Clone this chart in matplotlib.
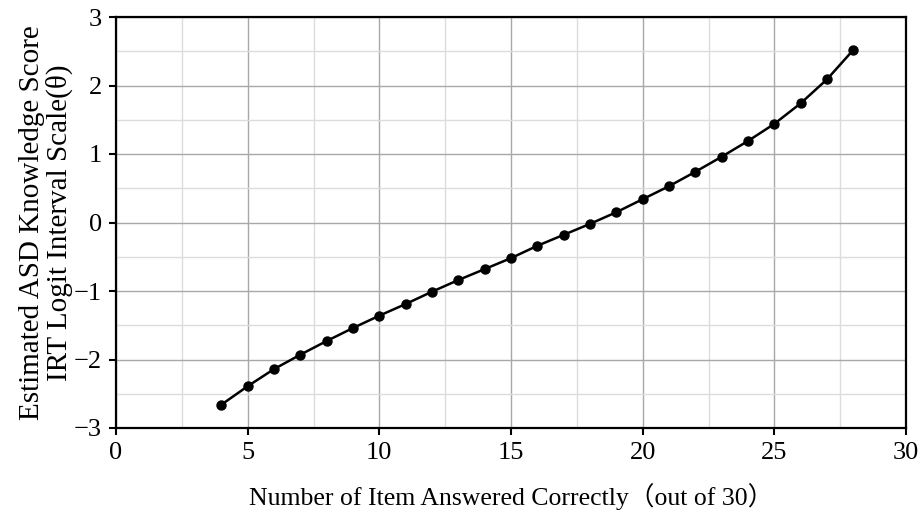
import numpy as np
import matplotlib.pyplot as plt
from matplotlib.ticker import MultipleLocator

plt.rcParams['font.family'] = ['Liberation Serif', 'Noto Sans CJK SC']

# items answered correctly and estimated theta
items = np.arange(4, 29)
theta = np.array([-2.66, -2.39, -2.14, -1.93, -1.73, -1.54, -1.36, -1.19, -1.01,
                  -0.84, -0.68, -0.52, -0.34, -0.18, -0.02, 0.15, 0.34, 0.53,
                  0.74, 0.96, 1.19, 1.44, 1.74, 2.09, 2.52])

fig = plt.figure(figsize=(9.21, 5.12), dpi=100)
ax = fig.add_axes([116 / 921, 1 - 428 / 512, 790 / 921, 411 / 512])

ax.plot(items, theta, color='black', lw=1.8, marker='o', ms=6.5, zorder=3)

ax.set_xlim(0, 30)
ax.set_ylim(-3, 3)
ax.xaxis.set_major_locator(MultipleLocator(5))
ax.xaxis.set_minor_locator(MultipleLocator(2.5))
ax.yaxis.set_major_locator(MultipleLocator(1))
ax.yaxis.set_minor_locator(MultipleLocator(0.5))
ax.grid(which='major', color='#a8a8a8', lw=1.0)
ax.grid(which='minor', color='#dcdcdc', lw=1.0)
ax.set_axisbelow(True)

ax.tick_params(which='major', direction='out', length=5, width=1.5, labelsize=19,
               top=False, right=False, pad=5)
ax.tick_params(which='minor', length=0)
for s in ax.spines.values():
    s.set_linewidth(1.6)

ax.set_yticks([-3, -2, -1, 0, 1, 2, 3])
ax.set_yticklabels(['\u22123', '\u22122', '\u22121', '0', '1', '2', '3'])

ax.set_xlabel('Number of Item Answered Correctly\uff08out of 30\uff09', fontsize=18.5, labelpad=14)
ax.set_ylabel('Estimated ASD Knowledge Score\nIRT Logit Interval Scale(\u03b8)', fontsize=21,
              labelpad=1, linespacing=1.0)

fig.savefig('out.png', dpi=100)
